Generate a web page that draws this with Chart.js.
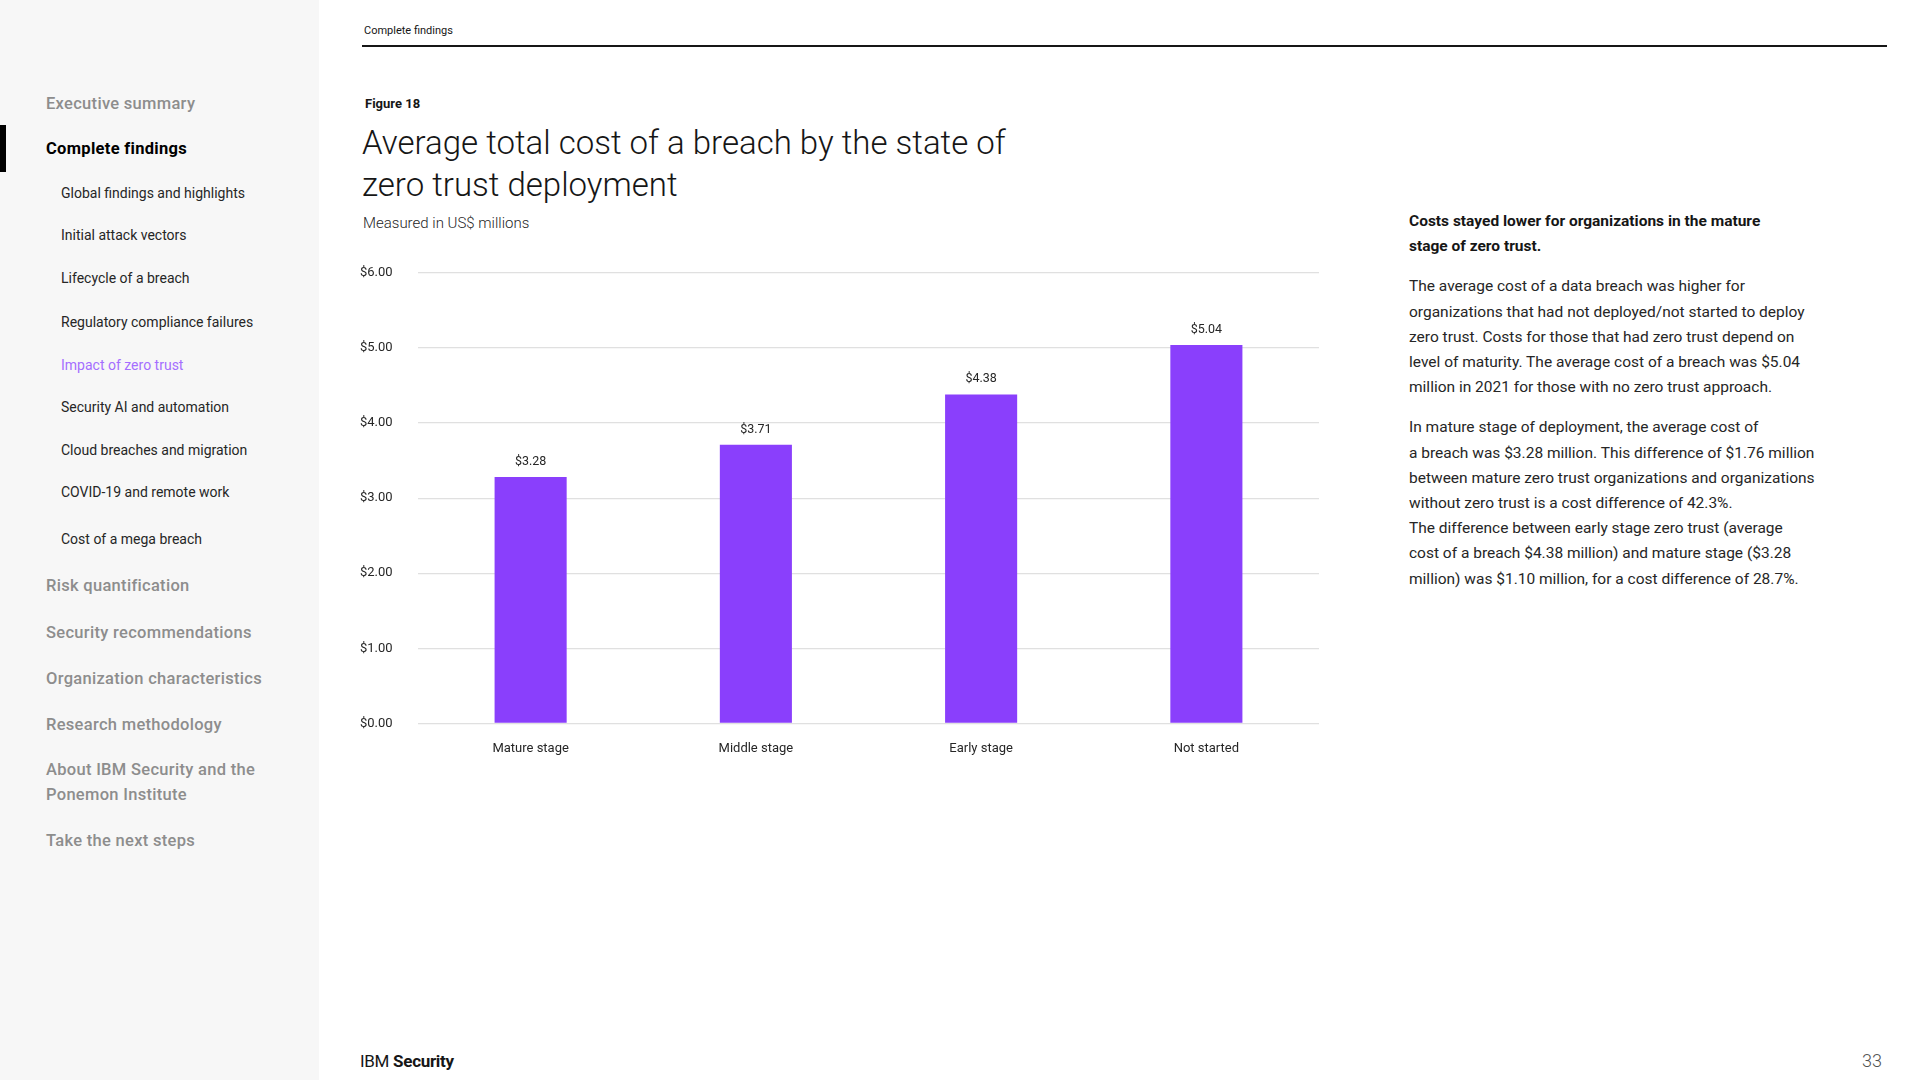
<!DOCTYPE html>
<html>
<head>
<meta charset="utf-8">
<script src="https://cdn.jsdelivr.net/npm/chart.js@4"></script>
<style>
    body { margin: 0; width: 1920px; height: 1080px; background: #fff; font-family: Roboto, "Noto Sans", sans-serif; color: #161616; position: relative; overflow: hidden; }
    .side { position: absolute; left: 0; top: 0; width: 319px; height: 1080px; background: #f7f7f7; }
    .side .mark { position: absolute; left: 0; top: 125px; width: 6px; height: 47px; background: #000; }
    .side div.item { position: absolute; white-space: nowrap; transform: translateY(-50%); }
    .top { left: 46px; font-size: 16.5px; font-weight: 500; color: #8d8d8d; letter-spacing: 0.3px; line-height: 25px; }
    .sub { left: 61px; font-size: 14px; color: #262626; }
    .abs { position: absolute; white-space: nowrap; }
    #chartBox { position: absolute; left: 360px; top: 265px; width: 962px; height: 502px; }
    .notes { position: absolute; left: 1409px; top: 209px; font-size: 15.5px; line-height: 25.2px; color: #262626; white-space: nowrap; }
    .notes p { margin: 0 0 15px 0; }
</style>
</head>
<body>
<div class="side">
    <div class="mark"></div>
    <div class="item top" style="top:103px">Executive summary</div>
    <div class="item top" style="top:148px; color:#000; font-weight:700">Complete findings</div>
    <div class="item sub" style="top:193px">Global findings and highlights</div>
    <div class="item sub" style="top:235px">Initial attack vectors</div>
    <div class="item sub" style="top:278px">Lifecycle of a breach</div>
    <div class="item sub" style="top:322px">Regulatory compliance failures</div>
    <div class="item sub" style="top:365px; color:#a56eff">Impact of zero trust</div>
    <div class="item sub" style="top:407px">Security AI and automation</div>
    <div class="item sub" style="top:450px">Cloud breaches and migration</div>
    <div class="item sub" style="top:492px">COVID-19 and remote work</div>
    <div class="item sub" style="top:539px">Cost of a mega breach</div>
    <div class="item top" style="top:585px">Risk quantification</div>
    <div class="item top" style="top:632px">Security recommendations</div>
    <div class="item top" style="top:678px">Organization characteristics</div>
    <div class="item top" style="top:724px">Research methodology</div>
    <div class="item top" style="top:782px">About IBM Security and the<br>Ponemon Institute</div>
    <div class="item top" style="top:840px">Take the next steps</div>
</div>

<div class="abs" style="left:364px; top:24px; font-size:11px; color:#161616">Complete findings</div>
<div class="abs" style="left:362px; top:45px; width:1525px; height:1.5px; background:#161616"></div>

<div class="abs" style="left:365px; top:96px; font-size:13px; font-weight:700">Figure 18</div>
<div class="abs" style="left:362px; top:122px; font-size:33px; font-weight:300; line-height:42px; color:#161616">Average total cost of a breach by the state of<br>zero trust deployment</div>
<div class="abs" style="left:363px; top:214px; font-size:15px; font-weight:300; color:#262626">Measured in US$ millions</div>

<div id="chartBox"><canvas id="chart"></canvas></div>

<div class="notes">
    <p style="font-weight:700; color:#161616">Costs stayed lower for organizations in the mature<br>stage of zero trust.</p>
    <p>The average cost of a data breach was higher for<br>organizations that had not deployed/not started to deploy<br>zero trust. Costs for those that had zero trust depend on<br>level of maturity. The average cost of a breach was $5.04<br>million in 2021 for those with no zero trust approach.</p>
    <p>In mature stage of deployment, the average cost of<br>a breach was $3.28 million. This difference of $1.76 million<br>between mature zero trust organizations and organizations<br>without zero trust is a cost difference of 42.3%.<br>The difference between early stage zero trust (average<br>cost of a breach $4.38 million) and mature stage ($3.28<br>million) was $1.10 million, for a cost difference of 28.7%.</p>
</div>

<div class="abs" style="left:360px; top:1051px; font-size:17px; color:#161616; letter-spacing:-0.3px">IBM <b>Security</b></div>
<div class="abs" style="left:1862px; top:1050px; font-size:18px; font-weight:300; color:#525252">33</div>

<script>
// Chart data
const stages = ["Mature stage", "Middle stage", "Early stage", "Not started"];
const avgCost = [3.28, 3.71, 4.38, 5.04];
const yTicks = [0, 1, 2, 3, 4, 5, 6];

// Draw value labels above each bar
const valueLabels = {
    id: "valueLabels",
    afterDatasetsDraw(chart) {
        const ctx = chart.ctx;
        const meta = chart.getDatasetMeta(0);
        ctx.save();
        ctx.font = "12.5px Roboto, 'Noto Sans', sans-serif";
        ctx.fillStyle = "#262626";
        ctx.textAlign = "center";
        ctx.textBaseline = "bottom";
        meta.data.forEach((bar, i) => {
            ctx.fillText("$" + avgCost[i].toFixed(2), bar.x, bar.y - 9);
        });
        ctx.restore();
    }
};

const ctx = document.querySelector("#chart").getContext("2d");

const chart = new Chart(ctx, {
    type: "bar",
    data: {
        labels: stages,
        datasets: [{
            data: avgCost,
            backgroundColor: "#8a3ffc",
            categoryPercentage: 1,
            barPercentage: 0.32
        }]
    },
    options: {
        responsive: true,
        maintainAspectRatio: false,
        animation: false,
        layout: { padding: { top: 0, right: 3 } },
        plugins: {
            legend: { display: false },
            tooltip: { enabled: false }
        },
        scales: {
            x: {
                grid: { display: false },
                border: { display: false },
                ticks: {
                    color: "#262626",
                    padding: 10,
                    font: { family: "Roboto, 'Noto Sans', sans-serif", size: 13 }
                }
            },
            y: {
                min: 0,
                max: 6,
                afterBuildTicks: axis => {
                    axis.ticks = yTicks.map(v => ({ value: v }));
                },
                afterFit: axis => { axis.width = 58; },
                grid: { color: "#e0e0e0", lineWidth: 1.2, drawTicks: false },
                border: { display: false },
                ticks: {
                    color: "#262626",
                    padding: 0,
                    align: "center",
                    crossAlign: "far",
                    callback: v => "$" + Number(v).toFixed(2),
                    font: { family: "Roboto, 'Noto Sans', sans-serif", size: 13 }
                }
            }
        }
    },
    plugins: [valueLabels]
});
</script>
</body>
</html>
